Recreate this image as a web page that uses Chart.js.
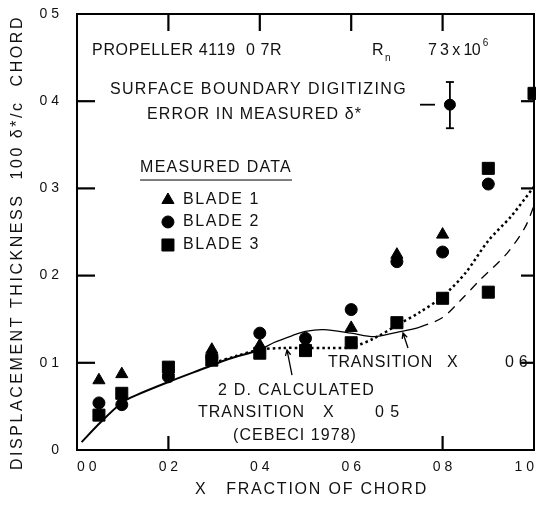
<!DOCTYPE html>
<html>
<head>
<meta charset="utf-8">
<script src="https://cdn.jsdelivr.net/npm/chart.js@4.4.1/dist/chart.umd.min.js"></script>
<style>
  html, body { margin: 0; padding: 0; background: #fff; }
  #wrap { width: 536px; height: 505px; }
</style>
</head>
<body>
<div id="wrap"><canvas id="chart" width="536" height="505"></canvas></div>
<script>
// measured displacement thickness
var blade1X = [0.048, 0.098, 0.2, 0.295, 0.4, 0.5, 0.6, 0.7, 0.8];
var blade1Y = [0.080, 0.087, 0.090, 0.115, 0.120, 0.121, 0.140, 0.224, 0.247];
var blade2X = [0.048, 0.098, 0.2, 0.295, 0.4, 0.5, 0.6, 0.7, 0.8, 0.9];
var blade2Y = [0.054, 0.052, 0.084, 0.106, 0.134, 0.128, 0.161, 0.216, 0.227, 0.305];
var blade3X = [0.048, 0.098, 0.2, 0.295, 0.4, 0.5, 0.6, 0.7, 0.8, 0.9, 0.9, 1.0];
var blade3Y = [0.040, 0.065, 0.095, 0.103, 0.111, 0.114, 0.123, 0.146, 0.174, 0.181, 0.323, 0.409];

// digitizing error sample
var errX = [0.816];
var errY = [0.396];
var errLow = [0.369];
var errHigh = [0.422];

// 2D calculation, transition at x = 0.6 (solid, dashed toward trailing edge)
var calc06X = [0.01, 0.05, 0.1, 0.13, 0.2, 0.28, 0.33, 0.4, 0.43, 0.47, 0.5, 0.54, 0.6, 0.65, 0.7, 0.75, 0.8, 0.84, 0.88, 0.94, 0.98, 1.0];
var calc06Y = [0.009, 0.031, 0.055, 0.063, 0.078, 0.094, 0.104, 0.115, 0.123, 0.131, 0.136, 0.138, 0.134, 0.130, 0.135, 0.141, 0.152, 0.172, 0.194, 0.225, 0.255, 0.280];
// 2D calculation, transition at x = 0.5 (dotted)
var calc05X = [0.3, 0.35, 0.4, 0.45, 0.5, 0.55, 0.6, 0.65, 0.7, 0.75, 0.8, 0.85, 0.9, 0.95, 1.0];
var calc05Y = [0.100, 0.108, 0.115, 0.117, 0.117, 0.117, 0.118, 0.128, 0.143, 0.158, 0.176, 0.203, 0.240, 0.268, 0.302];

var xTickLabels = ['0 0', '0 2', '0 4', '0 6', '0 8', '1 0'];
var yTickLabels = ['0', '0 1', '0 2', '0 3', '0 4', '0 5'];
var legendNames = ['BLADE 1', 'BLADE 2', 'BLADE 3'];

function pairs(xs, ys) {
  return xs.map(function(x, i) { return { x: x, y: ys[i] }; });
}

var FONT = '"Liberation Sans", Arial, sans-serif';

// text placed in data units: left edge, right edge (for spacing), vertical middle
var notes = [
  { text: 'PROPELLER 4119  0 7R', x0: 0.033, x1: 0.449, y: 0.458, size: 16 },
  { text: 'R', x0: 0.6455, y: 0.458, size: 16 },
  { text: 'n', x0: 0.674, y: 0.449, size: 10 },
  { text: '7 3 x 10', x0: 0.768, x1: 0.882, y: 0.458, size: 16 },
  { text: '6', x0: 0.888, y: 0.466, size: 10 },
  { text: 'SURFACE BOUNDARY DIGITIZING', x0: 0.072, x1: 0.722, y: 0.413, size: 16 },
  { text: 'ERROR IN MEASURED δ*', x0: 0.153, x1: 0.624, y: 0.385, size: 16 },
  { text: 'MEASURED DATA', x0: 0.138, x1: 0.4705, y: 0.3234, size: 16 },
  { text: 'TRANSITION', x0: 0.549, x1: 0.779, y: 0.0998, size: 16 },
  { text: 'X', x0: 0.8096, y: 0.0998, size: 16 },
  { text: '0 6', x0: 0.9365, x1: 0.9869, y: 0.0998, size: 16 },
  { text: '2 D. CALCULATED', x0: 0.3085, x1: 0.6521, y: 0.0677, size: 16 },
  { text: 'TRANSITION', x0: 0.2648, x1: 0.4989, y: 0.0424, size: 16 },
  { text: 'X', x0: 0.5383, y: 0.0424, size: 16 },
  { text: '0 5', x0: 0.6521, x1: 0.7068, y: 0.0424, size: 16 },
  { text: '(CEBECI 1978)', x0: 0.3414, x1: 0.6127, y: 0.0161, size: 16 }
];
var arrows = [
  { x0: 0.4705, y0: 0.086, x1: 0.4595, y1: 0.1147 },
  { x0: 0.7243, y0: 0.117, x1: 0.7133, y1: 0.1342 }
];
var legendPos = { markX: 0.199, textX0: 0.232, textX1: 0.4004, rows: [0.2867, 0.2615, 0.2351] };

function drawText(ctx, text, x0, x1, y, size) {
  ctx.font = size + 'px ' + FONT;
  ctx.letterSpacing = '0px';
  var sp = 0;
  if (x1 != null) {
    var w = ctx.measureText(text).width;
    sp = Math.max(-1, Math.min(6, (x1 - x0 - w) / text.length));
  }
  ctx.letterSpacing = sp + 'px';
  ctx.fillText(text, x0, y);
  ctx.letterSpacing = '0px';
}

function marker(ctx, style, radius, x, y) {
  if (Chart.helpers && Chart.helpers.drawPoint) {
    Chart.helpers.drawPoint(ctx, { pointStyle: style, radius: radius, rotation: 0, borderWidth: 1 }, x, y);
    return;
  }
  ctx.beginPath();
  if (style === 'triangle') {
    ctx.moveTo(x, y - radius);
    ctx.lineTo(x + radius * 0.866, y + radius / 2);
    ctx.lineTo(x - radius * 0.866, y + radius / 2);
    ctx.closePath();
  } else if (style === 'rect') {
    var s = radius * Math.SQRT1_2;
    ctx.rect(x - s, y - s, 2 * s, 2 * s);
  } else {
    ctx.arc(x, y, radius, 0, Math.PI * 2);
  }
  ctx.fill();
  ctx.stroke();
}

function seg(ctx, x0, y0, x1, y1) {
  ctx.beginPath();
  ctx.moveTo(x0, y0);
  ctx.lineTo(x1, y1);
  ctx.stroke();
}

var figurePlugin = {
  id: 'figure',
  afterDatasetsDraw: function(chart) {
    var ctx = chart.ctx;
    var xs = chart.scales.x, ys = chart.scales.y;
    var a = chart.chartArea;
    var X = function(v) { return xs.getPixelForValue(v); };
    var Y = function(v) { return ys.getPixelForValue(v); };
    ctx.save();
    ctx.setLineDash([]);
    ctx.strokeStyle = '#000';
    ctx.fillStyle = '#000';

    // frame
    ctx.lineWidth = 2;
    ctx.strokeRect(a.left, a.top, a.right - a.left, a.bottom - a.top);

    // inward ticks
    ctx.lineWidth = 2.2;
    [0.1, 0.2, 0.3, 0.4].forEach(function(v) {
      seg(ctx, a.left, Y(v), a.left + 18, Y(v));
      seg(ctx, a.right, Y(v), a.right - 13, Y(v));
    });
    [0.2, 0.4, 0.6, 0.8].forEach(function(v) {
      seg(ctx, X(v), a.top, X(v), a.top + 17);
    });
    [0.2, 0.8].forEach(function(v) {
      seg(ctx, X(v), a.bottom, X(v), a.bottom - 14);
    });

    // error bar with caps and side dash
    ctx.lineWidth = 1.8;
    errX.forEach(function(x, i) {
      var px = X(x);
      seg(ctx, px, Y(errLow[i]), px, Y(errHigh[i]));
      seg(ctx, px - 4, Y(errLow[i]), px + 4, Y(errLow[i]));
      seg(ctx, px - 4, Y(errHigh[i]), px + 4, Y(errHigh[i]));
      seg(ctx, X(x - 0.0655), Y(errY[i]), X(x - 0.0326), Y(errY[i]));
    });

    // annotation arrows
    ctx.lineWidth = 1.3;
    arrows.forEach(function(ar) {
      var x0 = X(ar.x0), y0 = Y(ar.y0), x1 = X(ar.x1), y1 = Y(ar.y1);
      var ang = Math.atan2(y1 - y0, x1 - x0);
      ctx.beginPath();
      ctx.moveTo(x0, y0); ctx.lineTo(x1, y1);
      ctx.moveTo(x1 - 6 * Math.cos(ang - 0.45), y1 - 6 * Math.sin(ang - 0.45));
      ctx.lineTo(x1, y1);
      ctx.lineTo(x1 - 6 * Math.cos(ang + 0.45), y1 - 6 * Math.sin(ang + 0.45));
      ctx.stroke();
    });

    // texts
    ctx.fillStyle = '#111';
    ctx.textBaseline = 'middle';
    ctx.textAlign = 'left';
    notes.forEach(function(n) {
      drawText(ctx, n.text, X(n.x0), n.x1 != null ? X(n.x1) : null, Y(n.y), n.size);
    });

    // underline of the legend heading
    ctx.lineWidth = 1;
    seg(ctx, X(0.138), Y(0.3096), X(0.4705), Y(0.3096));

    // legend
    var sets = chart.data.datasets.filter(function(d) { return d.isBlade; });
    sets.forEach(function(d, i) {
      ctx.fillStyle = '#000';
      ctx.strokeStyle = '#000';
      ctx.lineWidth = 1;
      marker(ctx, d.pointStyle, d.pointRadius, X(legendPos.markX), Y(legendPos.rows[i]));
      ctx.fillStyle = '#111';
      drawText(ctx, legendNames[i], X(legendPos.textX0), X(legendPos.textX1), Y(legendPos.rows[i]), 16);
    });

    // axis titles
    drawText(ctx, 'X   FRACTION OF CHORD', a.left + 118, a.left + 351, a.bottom + 40, 16);
    ctx.save();
    ctx.translate(a.left - 59, 0);
    ctx.rotate(-Math.PI / 2);
    drawText(ctx, 'DISPLACEMENT THICKNESS  100 δ*/c  CHORD', -(a.bottom + 20), -(a.top + 1), 0, 16);
    ctx.restore();

    ctx.restore();
  }
};

var pointBase = { showLine: false, backgroundColor: '#000', borderColor: '#000', borderWidth: 1, clip: false, isBlade: true };

function noPad(s) {
  s.paddingTop = 0;
  s.paddingBottom = 0;
  s.paddingLeft = 0;
  s.paddingRight = 0;
}

var chart = new Chart(document.getElementById('chart'), {
  type: 'scatter',
  data: {
    datasets: [
      Object.assign({ label: legendNames[0], data: pairs(blade1X, blade1Y), pointStyle: 'triangle', pointRadius: 7 }, pointBase),
      Object.assign({ label: legendNames[1], data: pairs(blade2X, blade2Y), pointStyle: 'circle', pointRadius: 6 }, pointBase),
      Object.assign({ label: legendNames[2], data: pairs(blade3X, blade3Y), pointStyle: 'rect', pointRadius: 8.5 }, pointBase),
      {
        label: 'error', data: pairs(errX, errY), showLine: false, pointStyle: 'circle', pointRadius: 5.5,
        backgroundColor: '#000', borderColor: '#000'
      },
      {
        label: 'transition 0.6', data: pairs(calc06X, calc06Y), showLine: true, pointRadius: 0,
        borderColor: '#000', borderWidth: 1.4, tension: 0.3,
        segment: {
          borderWidth: function(c) { return c.p0.parsed.x < 0.4 ? 2 : 1.3; },
          borderDash: function(c) { return c.p0.parsed.x >= 0.74 ? [9, 7] : undefined; }
        }
      },
      {
        label: 'transition 0.5', data: pairs(calc05X, calc05Y), showLine: true, pointRadius: 0,
        borderColor: '#000', borderWidth: 2.5, borderDash: [2.5, 3], tension: 0.3
      }
    ]
  },
  options: {
    responsive: false,
    animation: false,
    devicePixelRatio: 1,
    layout: { autoPadding: false, padding: { top: 14, right: 2, left: 0, bottom: 0 } },
    plugins: { legend: { display: false }, tooltip: { enabled: false } },
    scales: {
      x: {
        type: 'linear', min: 0, max: 1,
        afterFit: function(s) { s.height = 55; noPad(s); },
        grid: { display: false, drawTicks: false },
        border: { display: false },
        ticks: {
          stepSize: 0.2, align: 'inner', padding: 9, maxRotation: 0, autoSkip: false,
          color: '#111', font: { family: FONT, size: 14 },
          callback: function(v, i) { return xTickLabels[i]; }
        }
      },
      y: {
        type: 'linear', min: 0, max: 0.5,
        afterFit: function(s) { s.width = 77; noPad(s); },
        grid: { display: false, drawTicks: false },
        border: { display: false },
        ticks: {
          stepSize: 0.1, padding: 18,
          color: '#111', font: { family: FONT, size: 14 },
          callback: function(v, i) { return yTickLabels[i]; }
        }
      }
    }
  },
  plugins: [figurePlugin]
});
</script>
</body>
</html>
